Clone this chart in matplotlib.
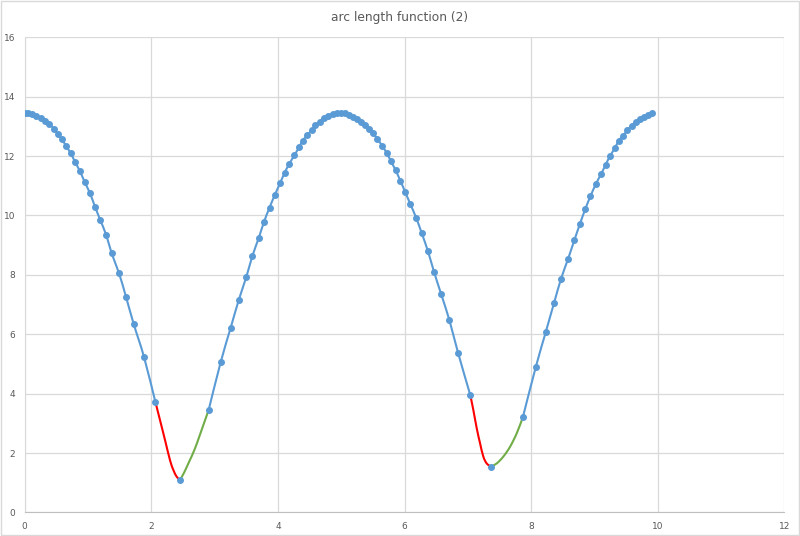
import numpy as np
import matplotlib.pyplot as plt
from matplotlib.path import Path
from matplotlib.patches import PathPatch, Rectangle

# blue series (markers), split where the red/green parts take over
x_blue_a = [0.000, 0.057, 0.120, 0.183, 0.253, 0.325, 0.389, 0.463, 0.521, 0.589,
            0.652, 0.727, 0.795, 0.874, 0.948, 1.032, 1.111, 1.194, 1.289, 1.374,
            1.490, 1.600, 1.722, 1.885, 2.063]
y_blue_a = [13.44, 13.44, 13.40, 13.36, 13.29, 13.19, 13.07, 12.92, 12.74, 12.56,
            12.34, 12.09, 11.80, 11.48, 11.12, 10.74, 10.29, 9.84, 9.33, 8.72,
            8.05, 7.26, 6.34, 5.23, 3.73]

x_blue_b = [2.907, 3.096, 3.254, 3.381, 3.501, 3.596, 3.697, 3.780, 3.867, 3.951,
            4.033, 4.107, 4.180, 4.259, 4.333, 4.392, 4.464, 4.539, 4.591, 4.665,
            4.728, 4.791, 4.866, 4.929, 4.992, 5.065, 5.128, 5.191, 5.254, 5.318,
            5.381, 5.444, 5.507, 5.570, 5.645, 5.716, 5.787, 5.859, 5.934, 6.008,
            6.092, 6.186, 6.272, 6.371, 6.466, 6.577, 6.708, 6.845, 7.039]
y_blue_b = [3.46, 5.06, 6.22, 7.15, 7.93, 8.63, 9.24, 9.78, 10.26, 10.69,
            11.08, 11.44, 11.74, 12.02, 12.29, 12.52, 12.70, 12.89, 13.04, 13.15,
            13.28, 13.36, 13.42, 13.45, 13.45, 13.44, 13.39, 13.32, 13.25, 13.15,
            13.03, 12.92, 12.76, 12.58, 12.35, 12.11, 11.82, 11.52, 11.17, 10.80,
            10.38, 9.91, 9.40, 8.79, 8.10, 7.36, 6.48, 5.38, 3.95]

x_blue_c = [7.869, 8.073, 8.231, 8.362, 8.472, 8.583, 8.682, 8.769, 8.855, 8.938,
            9.021, 9.104, 9.179, 9.246, 9.325, 9.384, 9.452, 9.520, 9.589, 9.657,
            9.725, 9.788, 9.852, 9.915]
y_blue_c = [3.20, 4.89, 6.07, 7.05, 7.86, 8.53, 9.16, 9.70, 10.21, 10.65,
            11.05, 11.39, 11.71, 12.00, 12.27, 12.52, 12.68, 12.87, 13.02, 13.14,
            13.25, 13.32, 13.39, 13.44]

x_min = [2.453, 7.367]
y_min = [1.09, 1.54]

# red (descending into the minimum) and green (climbing out) pieces
x_red1 = [2.063, 2.137, 2.216, 2.295, 2.348, 2.401, 2.453]
y_red1 = [3.73, 3.11, 2.44, 1.76, 1.43, 1.20, 1.09]
x_green1 = [2.453, 2.520, 2.600, 2.680, 2.769, 2.907]
y_green1 = [1.09, 1.35, 1.72, 2.10, 2.62, 3.46]

x_red2 = [7.039, 7.087, 7.141, 7.193, 7.245, 7.298, 7.367]
y_red2 = [3.95, 3.45, 2.83, 2.33, 1.88, 1.65, 1.54]
x_green2 = [7.367, 7.457, 7.561, 7.667, 7.772, 7.869]
y_green2 = [1.54, 1.65, 1.88, 2.21, 2.66, 3.20]

blue = '#5B9BD5'
red = '#FF0000'
green = '#70AD47'
grey_text = '#595959'


def smooth_path(xs, ys):
    # Excel-like smoothed line: cubic bezier through the points
    pts = np.column_stack([xs, ys])
    n = len(pts)
    verts = [pts[0]]
    codes = [Path.MOVETO]
    for i in range(n - 1):
        p0 = pts[max(i - 1, 0)]
        p1 = pts[i]
        p2 = pts[i + 1]
        p3 = pts[min(i + 2, n - 1)]
        verts += [p1 + (p2 - p0) / 6, p2 - (p3 - p1) / 6, p2]
        codes += [Path.CURVE4] * 3
    return Path(verts, codes)


fig = plt.figure(figsize=(8, 5.36), dpi=100)
ax = fig.add_axes([0.0309, 0.044, 0.9495, 0.8866])

for xs, ys, c in [(x_blue_a, y_blue_a, blue), (x_blue_b, y_blue_b, blue),
                  (x_blue_c, y_blue_c, blue), (x_red1, y_red1, red),
                  (x_green1, y_green1, green), (x_red2, y_red2, red),
                  (x_green2, y_green2, green)]:
    ax.add_patch(PathPatch(smooth_path(xs, ys), fill=False, edgecolor=c,
                           lw=1.5, capstyle='round', zorder=3))

all_x = x_blue_a + x_min[:1] + x_blue_b + x_min[1:] + x_blue_c
all_y = y_blue_a + y_min[:1] + y_blue_b + y_min[1:] + y_blue_c
ax.plot(all_x, all_y, 'o', color=blue, ms=4.0, mec=blue, zorder=4)

ax.set_xlim(0, 12)
ax.set_ylim(0, 16)
ax.set_xticks(range(0, 13, 2))
ax.set_yticks(range(0, 17, 2))
ax.grid(True, color='#D9D9D9', lw=0.9)
ax.set_axisbelow(True)
for side in ['top', 'right']:
    ax.spines[side].set_visible(False)
ax.spines['left'].set_color('#D9D9D9')
ax.spines['bottom'].set_color('#BFBFBF')
ax.tick_params(length=0, labelsize=6.5, labelcolor=grey_text)
ax.tick_params(axis='x', pad=7)
ax.tick_params(axis='y', pad=7)

fig.text(0.5, 1 - 18 / 536, 'arc length function (2)', ha='center', va='center',
         fontsize=8.8, color=grey_text)
fig.patches.append(Rectangle((0.001, 0.001), 0.998, 0.998, transform=fig.transFigure,
                             fill=False, edgecolor='#D9D9D9', lw=1))

fig.savefig('out.png', dpi=100)
